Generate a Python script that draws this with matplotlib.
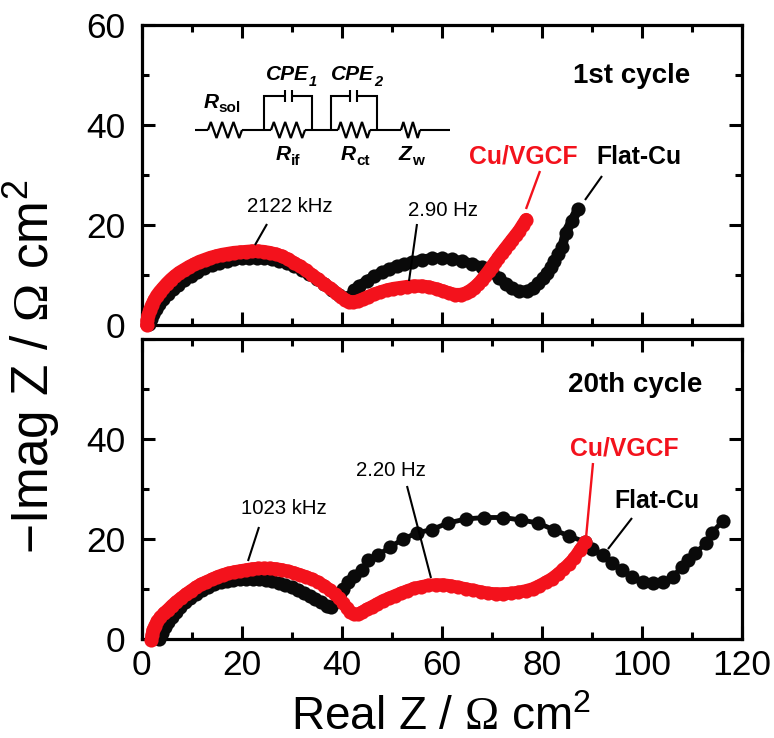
import matplotlib
matplotlib.use("Agg")
import matplotlib.pyplot as plt
from matplotlib.lines import Line2D
from matplotlib.transforms import Affine2D

plt.rcParams['font.family'] = ['Liberation Sans', 'DejaVu Sans']
plt.rcParams['mathtext.fontset'] = 'custom'
plt.rcParams['mathtext.rm'] = 'Liberation Sans'
plt.rcParams['mathtext.it'] = 'Liberation Sans:italic'
plt.rcParams['mathtext.bf'] = 'Liberation Sans:bold'
plt.rcParams['mathtext.sf'] = 'Liberation Serif'

W, H = 774, 738
BLACK, RED = '#0a0a0a', '#f3121c'

x_ticks = [0, 20, 40, 60, 80, 100, 120]
y_ticks = [0, 20, 40, 60]
y_ticks_lower = ['0', '20', '40', '']

flat1_x = [1.5,1.8,2.2,2.8,3.5,4.3,5.2,6.2,7.3,8.5,9.8,11,12.5,14,15.5,17,18.5,20,21.5,23,24.5,26,27.5,29,30.5,32,33.5,35,36.5,38,39.5,40.5,41.5,42.5,43.5,45,46.5,48,49.5,51,52.5,54,56,58,60,62,64,66,68,70,71.5,72.8,74,75.5,77,78.3,79.3,80.2,81,81.8,82.5,83.3,84.1,84.8,86.1,87.3]
flat1_y = [0.3,1.2,2.2,3.2,4.2,5.2,6.2,7.2,8.1,9,9.9,10.6,11.4,12,12.5,12.9,13.2,13.4,13.5,13.5,13.4,13.2,12.9,12.4,11.8,11,10.2,9.2,8.2,7,6,5.4,5.6,7,7.9,8.9,9.8,10.6,11.3,11.9,12.3,12.7,13.1,13.4,13.4,13.2,12.8,12.3,11.7,10.6,9.5,8.3,7.4,6.9,6.9,7.5,8.4,9.4,10.5,11.6,12.8,14.2,15.6,18.5,20.9,23.2]

cu1_x = [1,1.1,1.3,1.6,2,2.5,3,3.6,4.3,5,5.8,6.6,7.5,8.5,9.5,10.5,11.5,12.6,13.7,14.8,16,17.2,18.4,19.6,20.8,22,23.2,24.4,25.6,26.8,28,29.2,30.4,31.6,32.8,34,35.2,36.4,37.6,38.8,39.8,40.7,41.5,42.3,43.2,44.2,45.3,46.5,47.7,49,50.3,51.7,53.1,54.5,56,57.5,59,60.3,61.5,62.7,63.8,64.8,65.7,66.5,67.3,68,68.7,69.4,70,70.7,71.3,72,72.7,73.4,74.1,74.8,75.5,76.2,76.9]
cu1_y = [0,1,2,3,4,5,5.9,6.7,7.5,8.3,9.1,9.8,10.5,11.1,11.7,12.2,12.7,13.1,13.5,13.8,14.1,14.3,14.5,14.6,14.7,14.8,14.8,14.7,14.5,14.2,13.8,13.2,12.5,11.8,11,10.1,9.2,8.3,7.4,6.5,5.7,5.1,4.7,4.6,4.8,5.2,5.7,6.2,6.6,7,7.3,7.5,7.7,7.8,7.8,7.6,7.2,6.8,6.4,6.1,6.1,6.4,6.9,7.5,8.2,9,9.9,10.8,11.7,12.6,13.5,14.4,15.3,16.2,17.1,18,18.9,20,21.1]

flat20_x = [3.4,4,4.6,5.2,6,6.8,7.7,8.7,9.7,10.8,12,13.2,14.5,15.8,17,18.3,19.6,20.9,22.2,23.5,24.8,26.1,27.4,28.7,30,31.2,32.4,33.6,34.7,35.8,37,37.8,39.2,39.7,40.3,41.3,42.5,44,45.3,47.3,49.7,52.3,55,58,61.3,64.8,68.5,72.3,75.8,79.3,82.5,85.5,88.7,90,92.3,94,96,98,100.3,102.3,104.3,106.3,108,109.3,110.7,112.9,114,116.2]
flat20_y = [0,1.2,2.4,3.5,4.5,5.5,6.5,7.4,8.2,9,9.8,10.4,11,11.4,11.7,11.9,12,12.1,12.1,12,11.8,11.6,11.3,10.9,10.4,9.9,9.3,8.7,8.1,7.4,6.6,6.4,7.6,9.2,10.1,11.4,12.6,13.8,15.8,16.8,18.4,20,21.2,21.9,23.2,24,24.3,24.3,23.8,23.2,21.8,20.6,19.4,18,16.8,15.2,13.8,12.5,11.5,11.2,11.5,12.5,14.5,15.8,17.2,19.2,21.2,23.6]

cu20_x = [1.9,2,2.2,2.6,3.1,3.7,4.4,5.2,6,6.9,7.8,8.8,9.8,10.8,11.8,12.9,14,15.1,16.2,17.3,18.5,19.7,20.9,22.1,23.3,24.5,25.7,26.9,28.1,29.3,30.5,31.7,32.9,34.1,35.3,36.5,37.6,38.6,39.5,40.3,41,41.7,42.4,43.2,44,45,46,47.1,48.2,49.4,50.6,51.8,53.1,54.5,55.9,57.3,58.8,60.3,61.8,63.3,64.8,66.3,67.8,69.3,70.8,72.3,73.8,75.3,76.8,78.2,79.5,80.8,82,83.2,84.3,85.4,86.5,87.6,88.7]
cu20_y = [-0.1,0.8,1.8,2.7,3.6,4.4,5.2,5.9,6.7,7.5,8.2,9,9.7,10.4,11,11.5,12,12.5,12.9,13.2,13.5,13.7,13.9,14.1,14.2,14.2,14.2,14.1,13.9,13.6,13.3,12.9,12.5,12,11.4,10.7,9.9,9,8.2,7.2,6.3,5.5,5,5,5.4,6,6.5,7.1,7.7,8.2,8.7,9.2,9.7,10.2,10.5,10.8,10.9,10.9,10.7,10.4,10.1,9.8,9.5,9.2,9.1,9.1,9.2,9.4,9.7,10.1,10.7,11.4,12.1,13,14,15,16.2,17.8,19.4]

fig = plt.figure(figsize=(W / 100, H / 100), dpi=100)
px = Affine2D().scale(1, -1).translate(0, H)   # reference pixels to display


def make_axes(top, bottom):
    ax = fig.add_axes([141.7 / W, 1 - bottom / H, 600 / W, (bottom - top) / H])
    ax.set_xlim(0, 120)
    ax.set_ylim(0, 60)
    ax.set_xticks(x_ticks)
    ax.set_xticks([10, 30, 50, 70, 90, 110], minor=True)
    ax.set_yticks(y_ticks)
    ax.set_yticks([10, 30, 50], minor=True)
    ax.tick_params(which='major', direction='in', length=9.5, width=2.2, labelsize=25.5,
                   right=True, top=True)
    ax.tick_params(which='minor', direction='in', length=4.8, width=2.2, right=True, top=True)
    ax.tick_params(axis='y', which='major', pad=12)
    ax.tick_params(axis='x', which='major', pad=7)
    for s in ax.spines.values():
        s.set_linewidth(2.3)
    return ax


def curve(ax, x, y, c, z, join, ms=10.2):
    ax.plot(x, y, '-o', ms=ms, lw=join, color=c, mec=c, mew=0, clip_on=False, zorder=z,
            solid_capstyle='round', solid_joinstyle='round')


ax1 = make_axes(25, 325)
ax1.tick_params(which='both', labelbottom=False)
curve(ax1, flat1_x, flat1_y, BLACK, 3, 7)
curve(ax1, cu1_x, cu1_y, RED, 4, 9.5)

ax2 = make_axes(339, 639)
ax2.set_yticklabels(y_ticks_lower)
curve(ax2, flat20_x, flat20_y, BLACK, 3, 3.5)
curve(ax2, cu20_x, cu20_y, RED, 4, 9)

fig.text(441 / W, 1 - 730 / H, 'Real Z / $\\mathsf{\\Omega}$ cm$^{2}$', fontsize=33,
         ha='center', va='baseline')
fig.text(49 / W, 1 - 367 / H, '\u2212Imag Z / $\\mathsf{\\Omega}$ cm$^{2}$', fontsize=37,
         rotation=90, ha='center', va='baseline', rotation_mode='anchor')


def label(x, y, s, size=14.7, color='k', weight='normal', style='normal', ha='center'):
    fig.text(x, y, s, transform=px, fontsize=size, color=color, fontweight=weight,
             fontstyle=style, ha=ha, va='center', zorder=10)


def line(xs, ys, color='k', lw=1.5):
    fig.add_artist(Line2D(xs, ys, transform=px, color=color, lw=lw, zorder=10,
                          solid_capstyle='butt', solid_joinstyle='miter'))


label(632, 76, '1st cycle', 20, weight='bold')
label(638.5, 157, 'Flat-Cu', 17.8, weight='bold')
label(523.5, 156, 'Cu/VGCF', 17.8, RED, weight='bold')
label(290, 207, '2122 kHz')
label(442.5, 210, '2.90 Hz')
label(635, 385, '20th cycle', 20, weight='bold')
label(656.5, 501, 'Flat-Cu', 17.8, weight='bold')
label(624.5, 448, 'Cu/VGCF', 17.8, RED, weight='bold')
label(283.5, 509, '1023 kHz')
label(391, 471, '2.20 Hz')

line([267, 255], [224, 245])
line([417, 409], [224, 281])
line([602, 585], [176, 200])
line([540, 526], [171, 209], RED, 1.7)
line([259, 248], [527, 561])
line([407, 431], [486, 578])
line([632, 608], [518, 549])
line([593, 586], [463, 538], RED, 1.7)


def resistor(x0, x1, y=130, n=3, amp=8):
    xs, ys = [x0], [y]
    step = (x1 - x0) / (2 * n)
    for i in range(2 * n):
        xs.append(x0 + step * (i + 0.5))
        ys.append(y - amp if i % 2 == 0 else y + amp)
    xs.append(x1)
    ys.append(y)
    line(xs, ys, lw=1.6)


def parallel(left, right, cap0, cap1, res0, res1):
    line([left, left, cap0], [130, 96, 96])
    line([cap1, right, right], [96, 96, 130])
    line([cap0, cap0], [90, 102])
    line([cap1, cap1], [90, 102])
    line([left, res0], [130, 130])
    line([res1, right], [130, 130])
    resistor(res0, res1)


line([195, 208], [130, 130])
resistor(208, 242)
line([242, 264], [130, 130])
parallel(264, 312, 285, 292, 271, 305)
line([312, 331], [130, 130])
parallel(331, 377, 350, 357, 338, 370)
line([377, 401], [130, 130])
resistor(401, 420, n=2)
line([420, 450], [130, 130])

label(287, 75, 'CPE', 15, weight='bold', style='italic')
label(352, 75, 'CPE', 15, weight='bold', style='italic')
label(313, 82, '1', 10.5, weight='bold', style='italic')
label(378, 82, '2', 10.5, weight='bold', style='italic')
label(211.5, 102, 'R', 15, weight='bold', style='italic')
label(229.5, 108, 'sol', 11, weight='bold')
label(283.5, 155, 'R', 15, weight='bold', style='italic')
label(295.5, 161, 'if', 11, weight='bold')
label(348.5, 155, 'R', 15, weight='bold', style='italic')
label(363, 161, 'ct', 11, weight='bold')
label(405, 155, 'Z', 15, weight='bold', style='italic')
label(418, 161, 'w', 11, weight='bold')

fig.savefig('out.png', dpi=100, facecolor='white')
